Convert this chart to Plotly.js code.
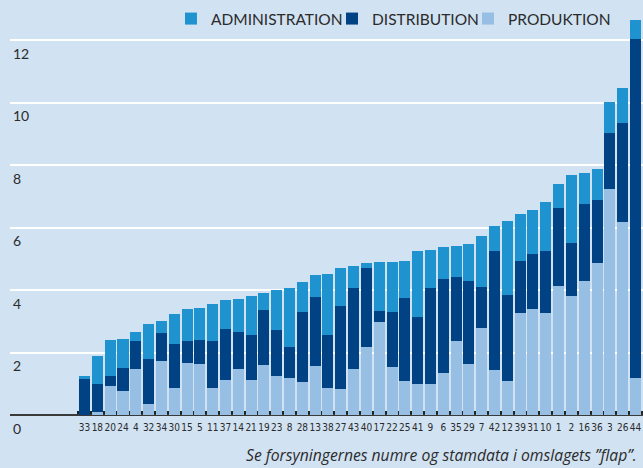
<!DOCTYPE html>
<html><head><meta charset="utf-8">
<script src="https://cdn.plot.ly/plotly-3.0.1.min.js"></script>
<style>html,body{margin:0;padding:0;background:#d1e2f2;} #chart{width:643px;height:468px;}</style>
</head><body><div id="chart"></div>
<script>
const categories = ["33","18","20","24","4","32","34","30","15","5","11","37","14","21","19","23","8","28","13","38","27","43","40","17","22","25","41","9","6","35","29","7","42","12","39","31","10","1","2","16","36","3","26","44"];
const produktion = [0,0.10,0.93,0.77,1.47,0.35,1.73,0.86,1.66,1.63,0.86,1.12,1.47,1.12,1.60,1.25,1.18,1.06,1.57,0.86,0.83,1.47,2.18,2.98,1.54,1.09,0.99,0.99,1.34,2.37,1.63,2.78,1.44,1.09,3.26,3.39,3.26,4.13,3.81,4.29,4.86,7.23,6.18,1.18];
const distribution = [1.15,0.89,0.32,0.74,0.90,1.44,0.90,1.41,0.70,0.77,1.50,1.63,1.18,1.44,1.76,1.47,0.99,2.24,2.21,1.70,2.66,2.59,2.53,0.35,1.76,2.66,2.14,3.07,3.01,2.05,2.66,1.31,3.81,2.75,1.66,1.76,1.98,2.50,1.70,2.46,2.02,1.79,3.17,10.85];
const administration = [0.10,0.90,1.15,0.93,0.29,1.12,0.38,0.96,1.02,1.02,1.18,0.93,1.06,1.25,0.54,1.28,1.89,0.96,0.70,1.95,1.22,0.70,0.16,1.57,1.60,1.18,2.11,1.22,1.02,0.99,1.18,1.63,0.80,2.37,1.50,1.41,1.57,0.77,2.18,0.99,0.99,0.99,1.12,0.61];
const seriesNames = ["PRODUKTION","DISTRIBUTION","ADMINISTRATION"];
const yTicks = [0,2,4,6,8,10,12];
const footnote = "Se forsyningernes numre og stamdata i omslagets \u201dflap\u201d.";

const colors = {PRODUKTION:"#97bee3", DISTRIBUTION:"#004283", ADMINISTRATION:"#1e93d0"};
const values = {PRODUKTION:produktion, DISTRIBUTION:distribution, ADMINISTRATION:administration};
const legendIds = {ADMINISTRATION:"legend", DISTRIBUTION:"legend2", PRODUKTION:"legend3"};

const traces = seriesNames.map(n => ({
  type:"bar", name:n, x:categories, y:values[n], legend:legendIds[n],
  marker:{color:colors[n], line:{width:0}},
  hoverinfo:"none"
}));

const font = "Lato, 'Open Sans', sans-serif";
const legendFont = {family:font, size:15.5, color:"#2b2b2b"};
function leg(x){
  return {orientation:"h", x:x, xanchor:"left", y:0.9906, yanchor:"middle",
          font:legendFont, bgcolor:"rgba(0,0,0,0)", borderwidth:0};
}
const yMin = -0.8, yMax = 12.8;
const layout = {
  width:643, height:468,
  margin:{l:10, r:0, t:15, b:28, pad:0},
  paper_bgcolor:"#d1e2f2", plot_bgcolor:"#d1e2f2",
  barmode:"stack", bargap:0.14,
  showlegend:true,
  legend:leg(0.2543), legend2:leg(0.5087), legend3:leg(0.7235),
  xaxis:{type:"category", range:[-5.82, 43.59], anchor:"free", position:(0 - yMin)/(yMax - yMin),
         showgrid:false, zeroline:false, layer:"below traces",
         showline:true, linecolor:"#3a3a3a", linewidth:2,
         tickmode:"linear", tick0:0, dtick:1,
         ticks:"inside", ticklen:3, tickwidth:3, tickcolor:"#222", tickson:"boundaries",
         ticklabelstandoff:3,
         tickangle:0, tickfont:{family:"'Liberation Sans Narrow', 'DejaVu Sans Condensed', sans-serif", size:10, color:"#2b2b2b"}},
  yaxis:{range:[yMin, yMax], tickvals:yTicks, ticktext:yTicks.map(String), showgrid:true, gridcolor:"#ffffff", gridwidth:2,
         zeroline:false, showline:false, ticks:"", ticklabelposition:"inside bottom", ticklabelshift:4,
         tickfont:{family:font, size:14, color:"#2b2b2b"}},
  annotations:[{text:footnote, xref:"paper", yref:"paper", x:0.9937, y:(440-455)/425, xanchor:"right", yanchor:"middle",
                showarrow:false, font:{family:"'Open Sans', Lato, sans-serif", size:15.7, style:"italic", color:"#2b2b2b"}}]
};
Plotly.newPlot("chart", traces, layout, {displayModeBar:false, staticPlot:true});
</script>
</body></html>
